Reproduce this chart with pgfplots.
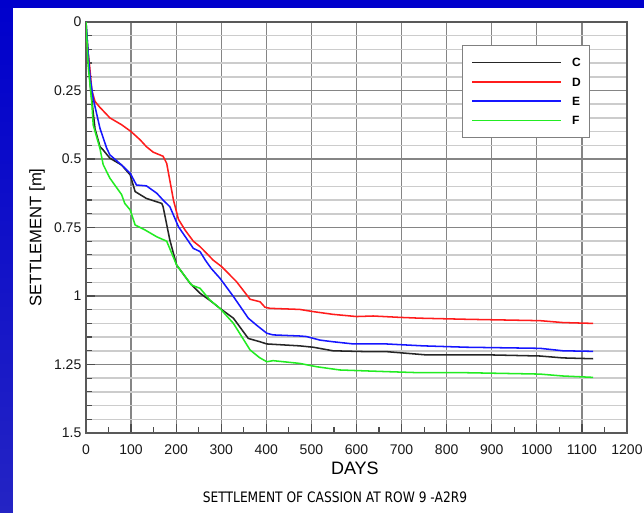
\documentclass[border=0pt]{standalone}
\usepackage{fontspec}
\setmainfont{Liberation Sans}
\newfontfamily\titlefont[FakeStretch=0.85]{DejaVu Sans}
\usepackage{pgfplots}
\pgfplotsset{compat=1.18}
\definecolor{bgtop}{RGB}{0,0,204}
\definecolor{bgbot}{RGB}{36,36,196}
\definecolor{cred}{RGB}{255,28,28}
\definecolor{cblue}{RGB}{22,22,255}
\definecolor{cgreen}{RGB}{34,236,34}
\begin{document}
\begin{tikzpicture}
\shade[top color=bgtop,bottom color=bgbot] (0,0) rectangle (483pt,384.75pt);
\fill[white] (9.75pt,0) rectangle (483pt,378.75pt);
\begin{axis}[
  at={(64.5pt,60pt)}, anchor=south west,
  scale only axis, width=405.75pt, height=308.25pt,
  xmin=0, xmax=1200, ymin=0, ymax=1.5, y dir=reverse,
  xtick={0,100,...,1200}, ytick={0,0.25,...,1.5},
  minor x tick num=1, minor y tick num=4,
  xmajorgrids, ymajorgrids, yminorgrids,
  major grid style={draw=black!48, line width=0.95pt},
  minor grid style={draw=black!20, line width=1.1pt},
  axis line style={draw=black!65, line width=1pt},
  tick align=inside, xtick pos=bottom, ytick pos=left,
  major tick length=7pt, minor tick length=4.5pt,
  tick style={draw=black!70, line width=0.9pt},
  /pgf/number format/assume math mode=true,
  /pgf/number format/1000 sep={},
  ticklabel style={font=\fontsize{10.5}{12}\selectfont, text=black!90},
  xticklabel style={yshift=-5pt},
  xlabel={DAYS}, ylabel={SETTLEMENT [m]},
  xlabel style={font=\fontsize{13.5}{15}\selectfont, at={(axis description cs:0.497,-0.087)}, anchor=center},
  ylabel style={font=\fontsize{12.5}{14}\selectfont, at={(axis description cs:-0.0906,0.476)}, anchor=center},
  legend cell align=left,
  legend style={at={(axis description cs:0.6956,0.944)}, anchor=north west,
    draw=black!50, line width=0.7pt, fill=white,
    inner xsep=6.5pt, inner ysep=9.5pt, row sep=8pt,
    font=\fontsize{9}{10}\bfseries\selectfont,
    nodes={inner sep=0pt, text height=6.5pt, text depth=0pt, fill=none},
    /tikz/every odd column/.append style={column sep=7.5pt},
    /tikz/every even column/.append style={column sep=7.5pt}},
  legend image code/.code={\draw[#1, line width=1.2pt] (0pt,0pt) -- (66.75pt,0pt);},
  every axis plot/.append style={line width=1.15pt, line join=round},
]
\addplot[black!85] coordinates {
(0,0) (5,0.12) (9,0.224) (16,0.33) (20,0.39) (31,0.455) (38,0.467) (53,0.497)
(79,0.522) (98,0.558) (109,0.619) (134,0.644) (168,0.662) (171,0.674) (186,0.796)
(201,0.887) (231,0.954) (253,0.99) (278,1.02) (297,1.045) (327,1.081) (360,1.155)
(386,1.167) (401,1.175) (474,1.182) (504,1.187) (548,1.2) (622,1.203) (666,1.203)
(755,1.215) (896,1.215) (1007,1.219) (1058,1.226) (1125,1.229)};
\addlegendentry{C}
\addplot[cred] coordinates {
(1,0.06) (8,0.16) (13,0.25) (20,0.29) (30,0.31) (53,0.35) (79,0.375) (100,0.40)
(120,0.43) (134,0.455) (149,0.475) (171,0.49) (179,0.516) (194,0.65) (205,0.72)
(220,0.76) (238,0.80) (253,0.82) (268,0.845) (282,0.869) (301,0.893) (334,0.948)
(364,1.012) (386,1.021) (397,1.041) (408,1.045) (474,1.049) (504,1.057) (548,1.067)
(600,1.075) (637,1.073) (696,1.078) (741,1.081) (844,1.085) (1007,1.090) (1058,1.097)
(1125,1.100)};
\addlegendentry{D}
\addplot[cblue] coordinates {
(0,0) (5,0.12) (9,0.2) (16,0.28) (31,0.388) (46,0.461) (53,0.485) (79,0.522)
(98,0.552) (112,0.595) (134,0.598) (157,0.625) (171,0.65) (186,0.674) (205,0.747)
(238,0.826) (253,0.838) (265,0.87) (278,0.9) (297,0.935) (327,1.002) (360,1.081)
(378,1.106) (401,1.136) (415,1.142) (474,1.146) (489,1.148) (519,1.161) (548,1.167)
(593,1.175) (666,1.175) (748,1.182) (844,1.187) (1007,1.191) (1058,1.2) (1125,1.202)};
\addlegendentry{E}
\addplot[cgreen] coordinates {
(0,0) (5,0.163) (13,0.297) (16,0.376) (31,0.462) (38,0.52) (53,0.57) (79,0.63)
(86,0.662) (98,0.686) (109,0.741) (131,0.759) (157,0.784) (179,0.80) (201,0.887)
(234,0.96) (253,0.972) (275,1.015) (297,1.045) (327,1.1) (364,1.197) (385,1.225)
(401,1.24) (415,1.236) (474,1.246) (511,1.258) (563,1.27) (666,1.276) (741,1.28)
(844,1.28) (1007,1.285) (1058,1.292) (1125,1.297)};
\addlegendentry{F}
\end{axis}
\node[font=\titlefont\fontsize{10.8}{12}\selectfont, text=black] at (251.25pt,12pt) {SETTLEMENT OF CASSION AT ROW 9 -A2R9};
\pgfresetboundingbox
\useasboundingbox (0,0) rectangle (483pt,384.75pt);
\end{tikzpicture}
\end{document}
